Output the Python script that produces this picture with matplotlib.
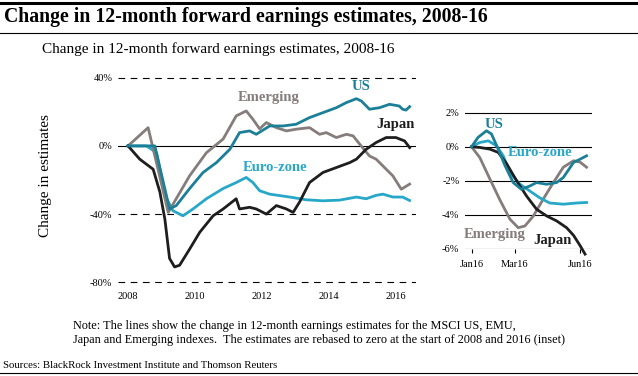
import matplotlib.pyplot as plt

plt.rcParams['font.family'] = ['Liberation Serif', 'DejaVu Serif']

# main chart, 2008-16 (years, % change)
emerging_x = [2008.0, 2008.6, 2009.2, 2009.84, 2010.34, 2010.84, 2011.23, 2011.53, 2011.73, 2011.93,
              2012.13, 2012.43, 2012.73, 2013.02, 2013.42, 2013.72, 2013.92, 2014.22, 2014.52, 2014.72,
              2014.92, 2015.21, 2015.41, 2015.61, 2015.91, 2016.16, 2016.41]
emerging_y = [0, 10.7, -39, -17.5, -4, 4, 17.6, 20.5, 15.6, 10, 13.7, 10.7, 8.8, 9.8, 10.7, 6.8, 7.8,
              4.9, 6.8, 5.9, 1, -5.9, -7.8, -11.7, -17.6, -25.4, -22.4]

us_x = [2008.0, 2008.5, 2008.8, 2009.24, 2009.44, 2009.84, 2010.24, 2010.64, 2011.04, 2011.33, 2011.63,
        2011.83, 2012.23, 2012.63, 2013.02, 2013.42, 2013.82, 2014.22, 2014.52, 2014.82, 2014.97,
        2015.21, 2015.51, 2015.81, 2016.1, 2016.2, 2016.3, 2016.41]
us_y = [0, 0, 0, -37, -35, -25, -15.6, -9.8, -2, 7.8, 8.8, 6.8, 11.7, 11.7, 12.7, 16.6, 19.5, 22.4,
        25.4, 27.7, 26.3, 21.5, 22.4, 24.4, 23.4, 21.5, 21, 23]

japan_x = [2008.0, 2008.35, 2008.75, 2008.95, 2009.1, 2009.24, 2009.39, 2009.54, 2009.84, 2010.14,
           2010.54, 2010.84, 2011.23, 2011.33, 2011.63, 2011.83, 2012.13, 2012.43, 2012.73, 2012.93,
           2013.12, 2013.42, 2013.82, 2014.22, 2014.62, 2014.82, 2015.11, 2015.41, 2015.71, 2016.0,
           2016.26, 2016.41]
japan_y = [0, -7.8, -13.7, -27, -43, -66, -71, -70, -60.5, -50.7, -41, -37, -31, -37, -36, -37, -40,
           -35, -37, -39, -33, -21.5, -15.6, -12.7, -9.8, -7.8, -2, 2, 4.9, 4.9, 2.9, -1]

euro_x = [2008.0, 2008.55, 2008.85, 2009.1, 2009.34, 2009.64, 2009.94, 2010.34, 2010.84, 2011.23,
          2011.53, 2011.73, 2011.93, 2012.23, 2012.83, 2013.32, 2013.82, 2014.32, 2014.82, 2015.11,
          2015.41, 2015.61, 2015.91, 2016.2, 2016.41]
euro_y = [0, 0, -4, -29, -38, -41, -37, -31, -25, -21.5, -18.5, -21.5, -26.3, -28.3, -30, -31.6,
          -32.2, -31.8, -30, -31, -29, -28.3, -30, -30, -32]

# inset, 2016 (months since Jan, % change)
in_emerging_x = [0, 0.38, 0.85, 1.3, 1.77, 2.15, 2.46, 2.85, 3.3, 3.77, 4.23, 4.7, 5.0, 5.3]
in_emerging_y = [0, -0.63, -1.9, -3.1, -4.25, -4.75, -4.65, -4.06, -3.08, -2.1, -1.2, -0.82, -0.9, -1.2]

in_us_x = [0, 0.3, 0.69, 0.92, 1.23, 1.54, 1.92, 2.3, 2.69, 3.0, 3.46, 3.92, 4.23, 4.7, 5.0, 5.3]
in_us_y = [0, 0.55, 0.94, 0.75, -0.14, -1.1, -2.1, -2.5, -2.3, -2.1, -2.2, -2.1, -1.8, -0.92, -0.73, -0.53]

in_euro_x = [0, 0.38, 0.77, 1.15, 1.46, 1.77, 2.23, 2.69, 3.15, 3.6, 4.23, 4.85, 5.3]
in_euro_y = [0, 0.25, 0.35, 0.06, -0.53, -1.5, -2.2, -2.6, -3.0, -3.3, -3.37, -3.3, -3.27]

in_japan_x = [0, 0.38, 0.85, 1.23, 1.62, 2.08, 2.54, 3.0, 3.46, 3.92, 4.38, 4.7, 5.0, 5.23]
in_japan_y = [0, -0.04, -0.14, -0.33, -1.0, -2.0, -2.9, -3.67, -4.06, -4.35, -4.75, -5.2, -5.8, -6.3]

main_years = [2008, 2010, 2012, 2014, 2016]
main_yticks = [40, 0, -40, -80]
inset_months = [0, 2, 5]
inset_month_labels = ['Jan16', 'Mar16', 'Jun16']
inset_yticks = [2, 0, -2, -4, -6]

c_us = '#1b7f97'
c_euro = '#27a8c8'
c_em = '#857d7b'
c_jp = '#1e1e1e'

fig = plt.figure(figsize=(6.38, 3.76), dpi=100)

# header / footer text and rules
fig.add_artist(plt.Line2D([0, 1], [1 - 2.5 / 376, 1 - 2.5 / 376], color='black', lw=2.2))
fig.text(4 / 638, 1 - 17 / 376, 'Change in 12-month forward earnings estimates, 2008-16',
         fontsize=14.2, fontweight='bold', va='center', ha='left')
fig.add_artist(plt.Line2D([0, 1], [1 - 32.5 / 376, 1 - 32.5 / 376], color='black', lw=0.8))
fig.text(42 / 638, 1 - 49 / 376, 'Change in 12-month forward earnings estimates, 2008-16',
         fontsize=11, va='center', ha='left')
fig.text(73 / 638, 1 - 326 / 376,
         'Note: The lines show the change in 12-month earnings estimates for the MSCI US, EMU,',
         fontsize=8.8, va='center', ha='left')
fig.text(73 / 638, 1 - 340 / 376,
         'Japan and Emerging indexes.  The estimates are rebased to zero at the start of 2008 and 2016 (inset)',
         fontsize=8.8, va='center', ha='left')
fig.text(3 / 638, 1 - 365 / 376, 'Sources: BlackRock Investment Institute and Thomson Reuters',
         fontsize=7.75, va='center', ha='left')
fig.add_artist(plt.Line2D([0, 1], [1 - 372.5 / 376, 1 - 372.5 / 376], color='black', lw=0.8))

# main chart
ax = fig.add_axes([118 / 638, 1 - 284 / 376, 298 / 638, (284 - 76) / 376])
ax.set_xlim(2007.7, 2016.6)
ax.set_ylim(-81, 41)
for v in main_yticks:
    if v == 0:
        ax.axhline(v, color='black', lw=0.8, zorder=1)
    else:
        ax.axhline(v, color='black', lw=0.8, ls=(0, (6, 5)), zorder=1)
lw = 2.0
ax.plot(euro_x, euro_y, color=c_euro, lw=lw, zorder=3)
ax.plot(emerging_x, emerging_y, color=c_em, lw=lw, zorder=3)
ax.plot(japan_x, japan_y, color=c_jp, lw=lw, zorder=3)
ax.plot(us_x, us_y, color=c_us, lw=lw, zorder=4)
for s in ax.spines.values():
    s.set_visible(False)
ax.set_xticks(main_years)
ax.set_xticklabels([str(y) for y in main_years], fontsize=7.5)
ax.set_yticks(main_yticks)
ax.set_yticklabels([f'{v}%' for v in main_yticks], fontsize=7.5)
ax.tick_params(length=0, pad=6)
ax.tick_params(axis='y', pad=4)
ax.set_ylabel('Change in estimates', fontsize=11)
ax.yaxis.set_label_coords(-0.222, 0.52)

lab = dict(fontsize=10.5, fontweight='bold', ha='center', va='center')
ax.text(2012.2, 28.5, 'Emerging', color=c_em, **lab)
ax.text(2014.95, 35, 'US', color=c_us, **lab)
ax.text(2016.0, 12.7, 'Japan', color=c_jp, **lab)
ax.text(2012.4, -12.5, 'Euro-zone', color=c_euro, **lab)

# inset
ins = fig.add_axes([465 / 638, 1 - 249 / 376, 127 / 638, (249 - 111) / 376])
ins.set_xlim(-0.3, 5.55)
ins.set_ylim(-6, 2.1)
for v in inset_yticks:
    ins.axhline(v, color='black', lw=0.8, zorder=1)
ins.plot(in_emerging_x, in_emerging_y, color=c_em, lw=lw, zorder=3, clip_on=False)
ins.plot(in_euro_x, in_euro_y, color=c_euro, lw=lw, zorder=3, clip_on=False)
ins.plot(in_japan_x, in_japan_y, color=c_jp, lw=lw, zorder=3, clip_on=False)
ins.plot(in_us_x, in_us_y, color=c_us, lw=lw, zorder=4, clip_on=False)
for s in ins.spines.values():
    s.set_visible(False)
ins.set_xticks(inset_months)
ins.set_xticklabels(inset_month_labels, fontsize=7.5)
ins.set_yticks(inset_yticks)
ins.set_yticklabels([f'{v}%' for v in inset_yticks], fontsize=7.5)
ins.tick_params(axis='x', length=3, width=0.8, pad=5)
ins.tick_params(axis='y', length=0, pad=4)

ins.text(1.05, 1.3, 'US', color=c_us, **lab)
ins.text(3.16, -0.36, 'Euro-zone', color=c_euro, **lab)
ins.text(1.08, -5.13, 'Emerging', color=c_em, **lab)
ins.text(3.75, -5.53, 'Japan', color=c_jp, **lab)

fig.savefig('out.png', dpi=100)
